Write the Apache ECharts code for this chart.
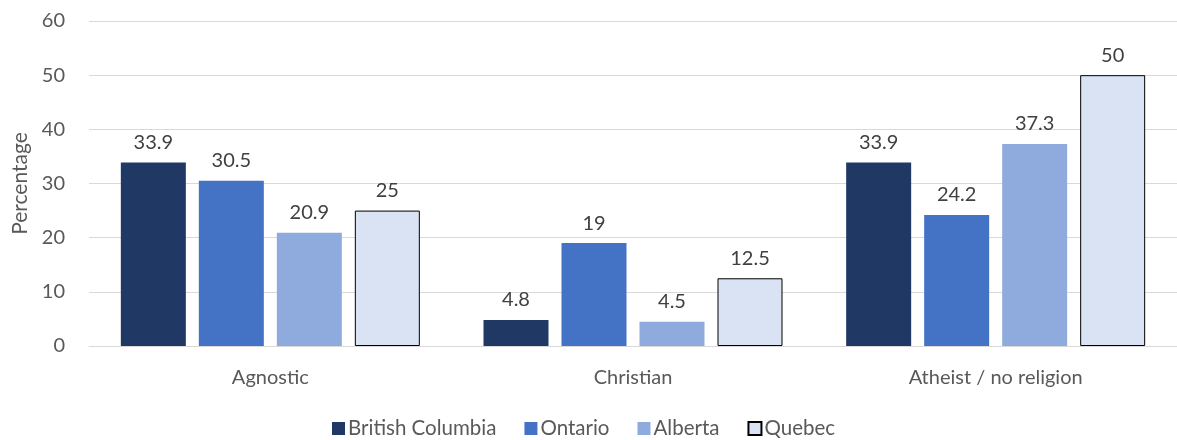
<!DOCTYPE html>
<html>
<head>
<meta charset="utf-8">
<script src="https://cdn.jsdelivr.net/npm/echarts@6/dist/echarts.min.js"></script>
<style>
  html, body { margin: 0; padding: 0; background: #fff; }
  #chart { width: 1177px; height: 440px; }
</style>
</head>
<body>
<div id="chart"></div>
<script>
var categories = ['Agnostic', 'Christian', 'Atheist / no religion'];
var britishColumbia = [33.9, 4.8, 33.9];
var ontario = [30.5, 19, 24.2];
var alberta = [20.9, 4.5, 37.3];
var quebec = [25, 12.5, 50];
var yTicks = [0, 10, 20, 30, 40, 50, 60];

var font = 'Lato, "Open Sans", sans-serif';
var chart = echarts.init(document.getElementById('chart'));

function bar(name, data, color, border) {
  return {
    name: name,
    type: 'bar',
    data: data,
    barWidth: 65,
    barGap: '20%',
    itemStyle: {
      color: color,
      borderColor: border || color,
      borderWidth: border ? 1 : 0
    },
    label: {
      show: true,
      position: 'top',
      distance: 10,
      color: '#404040',
      fontSize: 20,
      fontFamily: font
    }
  };
}

var option = {
  animation: false,
  grid: { left: 89, right: 0, top: 21, bottom: 94 },
  legend: {
    bottom: -4,
    left: 327,
    itemWidth: 13,
    itemHeight: 13,
    itemGap: 28,
    textStyle: { color: '#595959', fontSize: 20.5, fontFamily: font, padding: [0, 0, 0, -2] },
    data: [
      { name: 'British Columbia', icon: 'rect' },
      { name: 'Ontario', icon: 'rect' },
      { name: 'Alberta', icon: 'rect' },
      { name: 'Quebec', icon: 'rect' }
    ]
  },
  xAxis: {
    type: 'category',
    data: categories,
    axisTick: { show: false },
    axisLine: { lineStyle: { color: '#d9d9d9', width: 1 } },
    axisLabel: { color: '#595959', fontSize: 20, fontFamily: font, margin: 22 }
  },
  yAxis: {
    type: 'value',
    min: yTicks[0],
    max: yTicks[yTicks.length - 1],
    interval: 10,
    name: 'Percentage',
    nameLocation: 'middle',
    nameGap: 58,
    nameTextStyle: { color: '#595959', fontSize: 21, fontFamily: font },
    axisLabel: { color: '#595959', fontSize: 20, fontFamily: font, margin: 24 },
    splitLine: { lineStyle: { color: '#d9d9d9', width: 1 } }
  },
  series: [
    bar('British Columbia', britishColumbia, '#203864'),
    bar('Ontario', ontario, '#4472C4'),
    bar('Alberta', alberta, '#8FAADC'),
    bar('Quebec', quebec, '#DAE3F3', '#000000')
  ]
};

chart.setOption(option);
</script>
</body>
</html>
